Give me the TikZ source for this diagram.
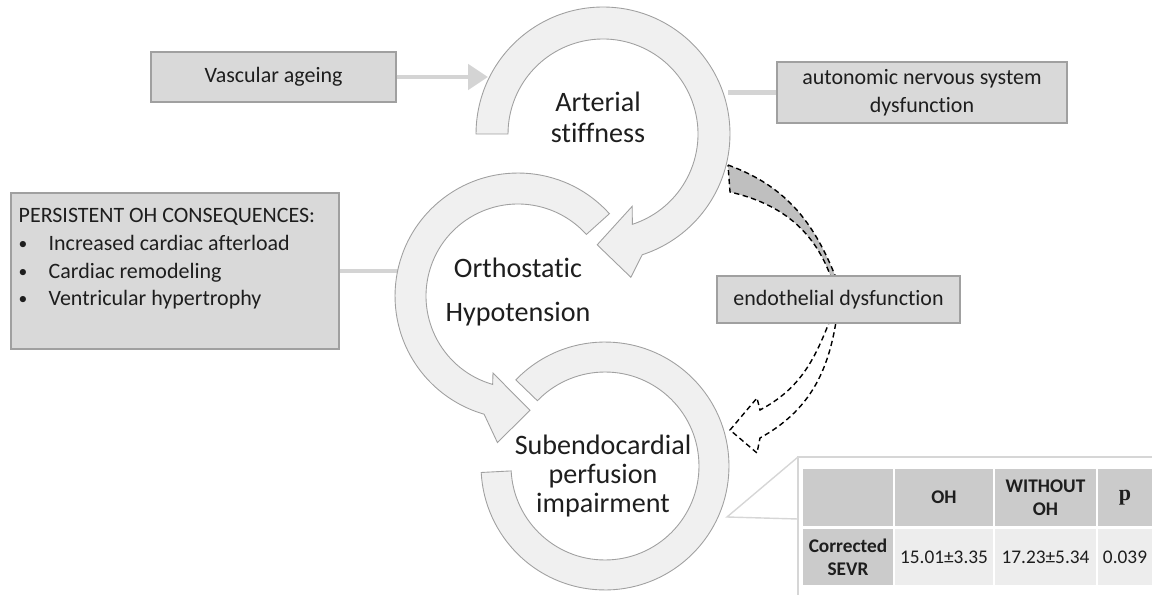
\documentclass[tikz,border=0pt]{standalone}
\usepackage{fontspec}
\setmainfont{Carlito}[Ligatures=NoCommon]
\newfontfamily\pfont{Liberation Serif}
\usepackage{tikz}
\usetikzlibrary{arrows.meta, positioning}
\definecolor{Ink}{HTML}{1E1E1E}
\definecolor{BoxGray}{HTML}{D9D9D9}
\definecolor{BoxEdge}{HTML}{A0A0A0}
\definecolor{RingFill}{HTML}{F0F0F0}
\definecolor{RingEdge}{HTML}{A0A0A0}
\definecolor{LinkGray}{HTML}{D4D4D4}
\definecolor{BandGray}{HTML}{BFBFBF}
\definecolor{HeadGray}{HTML}{CBCBCB}
\definecolor{CellGray}{HTML}{EDEDED}
\definecolor{FrameGray}{HTML}{D6D6D6}

\newcommand{\dotitem}{\makebox[0.6cm][l]{\fontsize{10}{10}\selectfont\raisebox{0.6pt}{•}}}

\begin{document}
\begin{tikzpicture}[x=0.02cm, y=0.02cm,
  box/.style={draw=BoxEdge, fill=BoxGray, text=Ink, line width=0.8pt,
    font=\fontsize{12.5}{15.8}\selectfont, align=center, inner sep=0pt},
  ring/.style={draw=RingEdge, fill=RingFill, line width=0.5pt},
  link/.style={line width=2.8pt, LinkGray},
  ringtext/.style={text=Ink, align=center, font=\fontsize{16}{17.6}\selectfont},
  dashline/.style={draw=black, line width=0.8pt, dash pattern=on 3pt off 2pt},
  cell/.style={fill=CellGray, text=Ink, align=center, inner sep=0pt,
    font=\fontsize{11}{13}\selectfont},
  headcell/.style={cell, fill=HeadGray, font=\fontsize{11}{13}\selectfont\bfseries},
  callout/.style={draw=FrameGray, line width=0.8pt}
]
\useasboundingbox (0,0) rectangle (1152,595);

% side links (under the rings)
\coordinate (asEast) at (728,502.5);
\coordinate (ohWest) at (405,324);
\draw[link] (asEast) -- (966,502.5);
\draw[link] (ohWest) -- (300,324);

% the three circular arrows
\draw[ring, shift={(605,129)}] (136:2.48cm) arc[start angle=136, end angle=-177, radius=2.48cm]
  -- (-177:1.88cm) arc[start angle=-177, end angle=136, radius=1.88cm] -- cycle;
\draw[ring, shift={(518,299)}] (42:2.46cm) arc[start angle=42, end angle=254, radius=2.46cm]
  -- (262:2.96cm) -- (276:2.3cm) -- (252:1.62cm)
  -- (254:1.84cm) arc[start angle=254, end angle=42, radius=1.84cm] -- cycle;
\draw[ring, shift={(603,461)}] (180:2.54cm) arc[start angle=180, end angle=-72, radius=2.54cm]
  -- (-79:2.92cm) -- (-93:2.22cm) -- (-68:1.56cm)
  -- (-72:1.9cm) arc[start angle=-72, end angle=180, radius=1.9cm] -- cycle;

\node[ringtext] (as) at (598,478) {Arterial\\stiffness};
\node[ringtext, font=\fontsize{16}{25.5}\selectfont] (oh) at (518,303) {Orthostatic\\Hypotension};
\node[ringtext, font=\fontsize{16}{16.4}\selectfont] (sp) at (603,119) {Subendocardial\\perfusion\\impairment};

% dashed arrow behind the endothelial box
\draw[dashline, fill=BandGray] (728,430) to[out=-20, in=111] (838,312)
  -- (833,312) to[out=108, in=-13] (730,403) -- cycle;
\draw[dashline, fill=white] (837,280) to[out=-98, in=29] (760,157) -- (757,142) -- (730,165)
  -- (757,197) -- (760,185) to[out=28, in=-111] (832,280) -- cycle;

% boxes
\node[box, minimum width=4.9cm, minimum height=1cm] (va) at (273.5,518) {Vascular ageing};
\node[box, minimum width=5.8cm, minimum height=1.22cm] (ans) at (922,502.5) {autonomic nervous system\\dysfunction};
\node[box, minimum width=4.86cm, minimum height=0.94cm] (endo) at (838.5,295.5) {endothelial dysfunction};
\node[box, minimum width=6.56cm, minimum height=3.12cm] (poh) at (175,324) {};
\node[below right=0.32cm and 0.16cm of poh.north west, align=left, text=Ink, inner sep=0pt,
  font=\fontsize{12.5}{15.7}\selectfont] (pohtext)
  {PERSISTENT OH CONSEQUENCES:\\
   \dotitem Increased cardiac afterload\\
   \dotitem Cardiac remodeling\\
   \dotitem Ventricular hypertrophy};

\coordinate (asWest) at (488,518);
\draw[link, -{Triangle[length=0.4cm, width=0.5cm]}] (va.east) -- (va.east -| asWest);

% table callout
\coordinate (tblNW) at (798,138);
\coordinate (tblW) at (798,76);
\coordinate (spEast) at (727,78);
\draw[callout] (1152,138) -- (tblNW) -- (798,0);
\draw[callout] (tblNW) -- (spEast) -- (tblW);

\node[headcell, minimum width=1.8cm, minimum height=1.14cm] (c11) at (848,97.5) {};
\node[headcell, minimum width=1.96cm, minimum height=1.14cm] (c12) at (944,97.5) {OH};
\node[headcell, minimum width=2.02cm, minimum height=1.14cm] (c13) at (1045.5,97.5) {WITHOUT\\OH};
\node[headcell, minimum width=1.08cm, minimum height=1.14cm] (c14) at (1125,97.5) {\pfont\bfseries\fontsize{12.5}{13}\selectfont p};
\node[headcell, minimum width=1.8cm, minimum height=1.12cm] (c21) at (848,38) {Corrected\\SEVR};
\node[cell, minimum width=1.96cm, minimum height=1.12cm] (c22) at (944,38) {15.01±3.35};
\node[cell, minimum width=2.02cm, minimum height=1.12cm] (c23) at (1045.5,38) {17.23±5.34};
\node[cell, minimum width=1.08cm, minimum height=1.12cm] (c24) at (1125,38) {0.039};
\end{tikzpicture}
\end{document}
